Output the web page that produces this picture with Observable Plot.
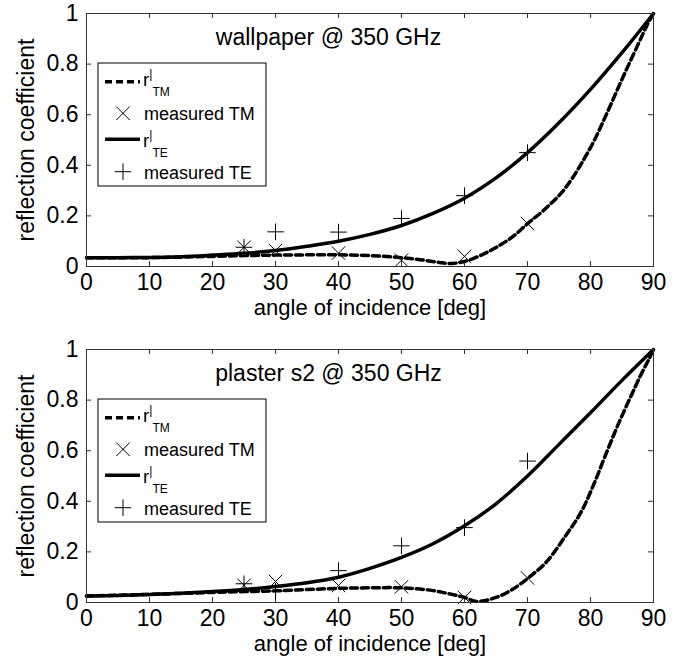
<!DOCTYPE html>
<html><head><meta charset="utf-8">
<script src="https://cdn.jsdelivr.net/npm/d3@7"></script>
<script src="https://cdn.jsdelivr.net/npm/@observablehq/plot@0.6"></script>
<style>body{margin:0;background:#fff;overflow:hidden} svg{display:block}</style>
</head><body><div id="chart"></div>
<script>
// ---- tick labels & texts ----
const xTicks = [0, 10, 20, 30, 40, 50, 60, 70, 80, 90];
const yTicks = [0, 0.2, 0.4, 0.6, 0.8, 1];
const xLabel = "angle of incidence [deg]";
const yLabel = "reflection coefficient";
const panelTitles = ["wallpaper @ 350 GHz", "plaster s2 @ 350 GHz"];
const legendNames = ["r", "measured TM", "r", "measured TE"];
const legendSubs = ["TM", null, "TE", null];

// ---- wallpaper @ 350 GHz ----
const wallTEAngle = [0, 5, 10, 15, 20, 25, 30, 35, 40, 45, 50, 55, 60, 65, 70, 75, 80, 85, 90];
const wallTE = [0.035, 0.035, 0.036, 0.039, 0.045, 0.052, 0.063, 0.08, 0.1, 0.127, 0.162, 0.21, 0.27, 0.35, 0.45, 0.568, 0.70, 0.845, 1.0];
const wallTMAngle = [0, 10, 20, 25, 30, 35, 40, 45, 50, 53, 56, 58, 60, 62.5, 65, 67.5, 70, 73, 76, 80, 82.5, 85, 87.5, 89, 90];
const wallTM = [0.035, 0.035, 0.04, 0.043, 0.045, 0.046, 0.046, 0.043, 0.035, 0.027, 0.016, 0.012, 0.02, 0.043, 0.075, 0.115, 0.169, 0.232, 0.31, 0.47, 0.6, 0.74, 0.875, 0.955, 1.0];
const wallMeasAngle = [25, 30, 40, 50, 60, 70];
const wallMeasTM = [0.076, 0.063, 0.053, 0.025, 0.04, 0.17];
const wallMeasTE = [0.076, 0.137, 0.136, 0.19, 0.28, 0.45];

// ---- plaster s2 @ 350 GHz ----
const plasTEAngle = [0, 5, 10, 15, 20, 25, 30, 35, 40, 45, 50, 55, 60, 65, 70, 75, 80, 85, 90];
const plasTE = [0.026, 0.028, 0.032, 0.037, 0.043, 0.051, 0.063, 0.078, 0.1, 0.135, 0.178, 0.232, 0.303, 0.39, 0.5, 0.625, 0.75, 0.878, 1.0];
const plasTMAngle = [0, 10, 20, 25, 30, 35, 40, 45, 50, 55, 58, 60, 62, 65, 67.5, 70, 73, 76, 78.5, 80.5, 82.5, 84.5, 86.5, 88, 89.2, 90];
const plasTM = [0.026, 0.032, 0.04, 0.043, 0.046, 0.051, 0.056, 0.058, 0.058, 0.047, 0.032, 0.02, 0.004, 0.02, 0.05, 0.095, 0.16, 0.262, 0.357, 0.466, 0.59, 0.71, 0.82, 0.9, 0.958, 1.0];
const plasMeasAngle = [25, 30, 40, 50, 60, 70];
const plasMeasTM = [0.068, 0.083, 0.067, 0.062, 0.02, 0.097];
const plasMeasTE = [0.074, 0.045, 0.126, 0.224, 0.296, 0.559];

const FONT = "'Liberation Sans', Arial, Helvetica, sans-serif";
const rows = (xs, ys) => xs.map((x, i) => ({x, y: ys[i]}));

function panel(title, teA, te, tmA, tm, mA, mTM, mTE, height, marginBottom) {
  const W = 683, mL = 86, mR = 30, mT = 13;
  const plotH = height - mT - marginBottom;
  const plotW = W - mL - mR;
  const frameColor = "#333";
  const svg = Plot.plot({
    width: W, height, marginLeft: mL, marginRight: mR, marginTop: mT, marginBottom,
    style: {fontFamily: FONT, fontSize: "23px", background: "#fff", color: "#000", overflow: "visible"},
    x: {domain: [0, 90]},
    y: {domain: [0, 1]},
    marks: [
      Plot.ruleX(xTicks, {stroke: frameColor, insetTop: plotH - 5}),
      Plot.ruleX(xTicks, {stroke: frameColor, insetBottom: plotH - 5}),
      Plot.ruleY(yTicks, {stroke: frameColor, insetRight: plotW - 5}),
      Plot.ruleY(yTicks, {stroke: frameColor, insetLeft: plotW - 5}),
      Plot.axisX({ticks: xTicks, tickSize: 0, tickPadding: 7, tickFormat: d => String(d), fontSize: 23, label: null}),
      Plot.text([xLabel], {frameAnchor: "bottom", dy: 41, text: d => d, textAnchor: "middle", lineAnchor: "middle", fontSize: 22, fill: "#000"}),
      Plot.axisY({ticks: yTicks, tickSize: 0, tickPadding: 8, tickFormat: d => String(d), fontSize: 23,
        label: yLabel, labelAnchor: "center", labelOffset: 69, labelArrow: "none"}),
      Plot.line(rows(tmA, tm), {x: "x", y: "y", stroke: "#000", strokeWidth: 3.5, strokeDasharray: "7,4", curve: "catmull-rom"}),
      Plot.line(rows(teA, te), {x: "x", y: "y", stroke: "#000", strokeWidth: 3.5, curve: "catmull-rom"}),
      Plot.dot(rows(mA, mTM), {x: "x", y: "y", symbol: "times", r: 6.15, stroke: "#000", strokeWidth: 1}),
      Plot.dot(rows(mA, mTE), {x: "x", y: "y", symbol: "plus", r: 5.4, stroke: "#000", strokeWidth: 1}),
      Plot.text([title], {frameAnchor: "top-left", dx: 242, dy: 24, text: d => d, textAnchor: "middle", lineAnchor: "middle", fontSize: 23, fill: "#000"}),
      Plot.frame({stroke: frameColor, strokeWidth: 1})
    ]
  });
  // legend box
  const g = d3.select(svg).append("g")
    .attr("transform", `translate(${mL + 12},${mT + 50})`)
    .attr("font-family", FONT).attr("fill", "#000").attr("text-anchor", "start");
  g.append("rect").attr("x", 0).attr("y", 0).attr("width", 168).attr("height", 123)
    .attr("fill", "#fff").attr("stroke", "#000").attr("stroke-width", 1);
  const lineY = [18.7, null, 76.3, null];
  const baseY = [23, 57, 84.3, 116];
  const markY = [null, 50.3, null, 108.7];
  legendNames.forEach((name, i) => {
    if (legendSubs[i]) {
      const ln = g.append("line").attr("x1", 7).attr("x2", 42).attr("y1", lineY[i]).attr("y2", lineY[i])
        .attr("stroke", "#000").attr("stroke-width", 3.5);
      if (i === 0) ln.attr("stroke-dasharray", "7,4");
      const t = g.append("text").attr("x", 45).attr("y", baseY[i]).attr("font-size", 19).attr("text-anchor", "start").text(name);
      t.append("tspan").attr("font-size", 12).attr("dy", -8.5).text("|");
      t.append("tspan").attr("font-size", 12).attr("dy", 18.5).text(legendSubs[i]);
    } else {
      const sym = i === 1 ? d3.symbol(d3.symbolTimes, 118.9) : d3.symbol(d3.symbolPlus, 91.9);
      g.append("path").attr("d", sym()).attr("transform", `translate(25,${markY[i]})`)
        .attr("fill", "none").attr("stroke", "#000").attr("stroke-width", 1);
      g.append("text").attr("x", 46).attr("y", baseY[i]).attr("font-size", 18).attr("text-anchor", "start").text(name);
    }
  });
  return svg;
}

const root = document.getElementById("chart");
root.appendChild(panel(panelTitles[0], wallTEAngle, wallTE, wallTMAngle, wallTM, wallMeasAngle, wallMeasTM, wallMeasTE, 336, 70));
root.appendChild(panel(panelTitles[1], plasTEAngle, plasTE, plasTMAngle, plasTM, plasMeasAngle, plasMeasTM, plasMeasTE, 332, 66));
</script>
</body></html>
